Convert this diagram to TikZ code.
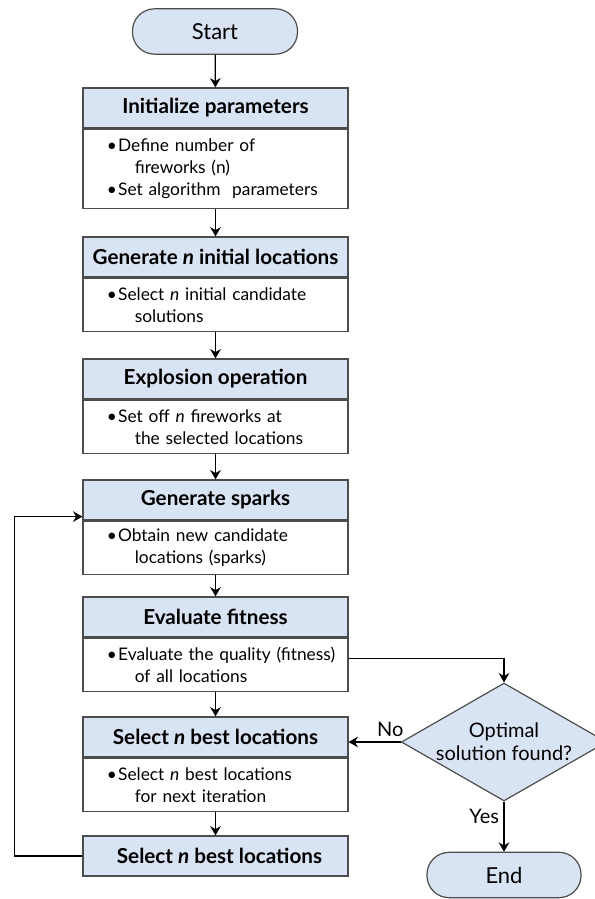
\documentclass[tikz,border=0pt]{standalone}
\usepackage{fontspec}
\setmainfont{Lato}
\usetikzlibrary{positioning,shapes.geometric,arrows.meta}
\definecolor{hdrblue}{HTML}{D8E3F3}
\definecolor{boxgray}{HTML}{4D4D4D}
\newcommand{\itm}[1]{\hspace*{11.5pt}\makebox[8.5pt][l]{\textbullet}#1}
\newcommand{\cont}[1]{\hspace*{32.5pt}#1}
\begin{document}
\begin{tikzpicture}[x=0.75pt, y=-0.75pt,
  head/.style={draw=boxgray, fill=hdrblue, line width=0.9pt, minimum width=198.75pt,
    minimum height=30pt, inner sep=0pt, font=\fontsize{15.5}{17}\selectfont\bfseries},
  bodybox/.style={draw=boxgray, fill=white, line width=0.9pt, text width=186pt,
    inner xsep=6.375pt, inner ysep=0pt, minimum height=40pt, align=left,
    font=\fontsize{13}{16.5}\selectfont},
  pillbox/.style={draw=boxgray, fill=hdrblue, line width=0.9pt, rounded corners=16.5pt,
    minimum height=34pt, inner sep=0pt, font=\fontsize{16.5}{18}\selectfont},
  decide/.style={diamond, aspect=1.74, draw=boxgray, fill=hdrblue, line width=0.9pt,
    inner sep=0pt, minimum width=154pt, minimum height=88.5pt, align=center,
    font=\fontsize{15}{17}\selectfont},
  arr/.style={-{Stealth[length=7pt,width=8pt]}, line width=0.9pt},
  lbl/.style={font=\fontsize{15}{17}\selectfont}]
  \useasboundingbox (0,0) rectangle (594,899);

  % start and main column
  \node[pillbox, minimum width=123.75pt] (start) at (215,31.5) {Start};

  \node[head] (init) at (215.5,108) {Initialize parameters};
  \node[bodybox, below=0pt of init, minimum height=59.25pt] (initb)
    {\itm{Define number of}\\ \cont{fireworks (n)}\\ \itm{Set algorithm\ \ parameters}};

  \node[head] (gen) at (215.5,257) {Generate \textit{n} initial locations};
  \node[bodybox, below=0pt of gen] (genb)
    {\itm{Select \textit{n} initial candidate}\\ \cont{solutions}};

  \node[head] (expl) at (215.5,379) {Explosion operation};
  \node[bodybox, below=0pt of expl] (explb)
    {\itm{Set off \textit{n} fireworks at}\\ \cont{the selected locations}};

  \node[head] (spark) at (215.5,500) {Generate sparks};
  \node[bodybox, below=0pt of spark] (sparkb)
    {\itm{Obtain new candidate}\\ \cont{locations (sparks)}};

  \node[head] (eval) at (215.5,617) {Evaluate fitness};
  \node[bodybox, below=0pt of eval] (evalb)
    {\itm{Evaluate the quality (fitness)}\\ \cont{of all locations}};

  \node[head] (sel) at (215.5,737) {Select \textit{n} best locations};
  \node[bodybox, below=0pt of sel] (selb)
    {\itm{Select \textit{n} best locations}\\ \cont{for next iteration}};

  \node[head] (selx) at (215.5,856) {\hspace*{6pt}Select \textit{n} best locations};

  % decision and end
  \node[decide] (optm) at (504,742) {Optimal\\solution found?};
  \node[pillbox, minimum width=115.5pt] (stop) at (504,875) {End};

  % connectors
  \draw[arr] (start) -- (init);
  \draw[arr] (initb) -- (gen);
  \draw[arr] (genb) -- (expl);
  \draw[arr] (explb) -- (spark);
  \draw[arr] (sparkb) -- (eval);
  \draw[arr] (evalb) -- (sel);
  \draw[arr] (selb) -- (selx);
  \draw[arr] (selx.west) -- ++(-68,0) |- ([yshift=3pt]spark.south west);
  \draw[arr] ([yshift=5pt]evalb.east) -| (optm.north);
  \draw[arr] (optm.west) -- (optm.west -| sel.east)
    node[pos=0.2, above, lbl] {No};
  \draw[arr] (optm.south) -- (stop.north)
    node[pos=0.3, left, lbl] {Yes};
\end{tikzpicture}
\end{document}
